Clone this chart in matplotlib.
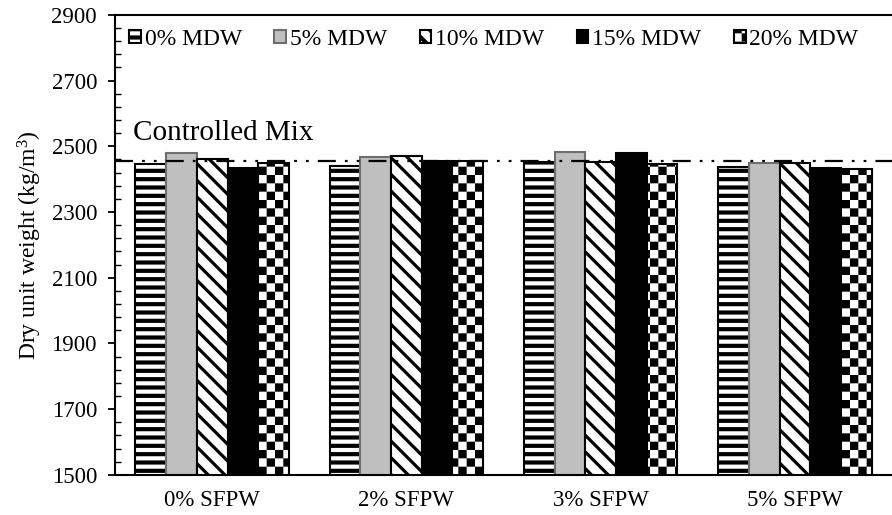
import numpy as np
import matplotlib
matplotlib.use("Agg")
import matplotlib.pyplot as plt
from matplotlib import hatch as mhatch
from matplotlib.ticker import AutoMinorLocator

plt.rcParams['font.family'] = ['Liberation Serif', 'DejaVu Serif']
plt.rcParams['mathtext.default'] = 'regular'
plt.rcParams['hatch.linewidth'] = 3.0
plt.rcParams['lines.scale_dashes'] = False

groups = ['0% SFPW', '2% SFPW', '3% SFPW', '5% SFPW']
series = ['0% MDW', '5% MDW', '10% MDW', '15% MDW', '20% MDW']
mdw0 = [2446, 2441, 2453, 2436]
mdw5 = [2481, 2468, 2484, 2448]
mdw10 = [2462, 2471, 2453, 2449]
mdw15 = [2433, 2454, 2479, 2433]
mdw20 = [2449, 2454, 2447, 2430]
control = 2456


# checkerboard hatch ('c'), matplotlib doesn't have one
class CheckerHatch(mhatch.HatchPatternBase):
    def __init__(self, hatch, density):
        n = hatch.count('c') * density
        if n % 2:
            n += 1
        self.n = n
        self.num_vertices = 5 * (n * n // 2) if n else 0

    def set_vertices_and_codes(self, vertices, codes):
        n = self.n
        step = 1.0 / n
        pad = plt.rcParams['hatch.linewidth'] / 72 / 2
        k = 0
        for i in range(n):
            for j in range(n):
                if (i + j) % 2:
                    continue
                x0, y0 = i * step + pad, j * step + pad
                x1, y1 = (i + 1) * step - pad, (j + 1) * step - pad
                vertices[k:k + 5] = [(x0, y0), (x1, y0), (x1, y1), (x0, y1), (x0, y0)]
                codes[k:k + 5] = [1, 2, 2, 2, 79]
                k += 5


mhatch._hatch_types.append(CheckerHatch)

fig = plt.figure(figsize=(8.92, 5.15), dpi=100)
ax = fig.add_axes([0.129, 0.078, 0.871, 0.893])

data = [mdw0, mdw5, mdw10, mdw15, mdw20]
styles = [
    dict(color='white', edgecolor='black', hatch='--', hlw=3.0),
    dict(color='#bfbfbf', edgecolor='#6e6e6e', hatch=None, hlw=None),
    dict(color='white', edgecolor='black', hatch='\\\\', hlw=2.3),
    dict(color='black', edgecolor='black', hatch=None, hlw=None),
    dict(color='white', edgecolor='black', hatch='cc', hlw=None),
]
x = np.arange(len(groups))
w = 0.158
for i, (vals, st) in enumerate(zip(data, styles)):
    bars = ax.bar(x + (i - 2) * w, vals, w, color=st['color'], edgecolor=st['edgecolor'],
                  hatch=st['hatch'], linewidth=1.5, label=series[i], zorder=2)
    if st['hlw'] is not None:
        for b in bars:
            if hasattr(b, 'set_hatch_linewidth'):
                b.set_hatch_linewidth(st['hlw'])

ax.axhline(control, color='black', lw=1.6, dashes=(13, 6.5, 2, 6.5, 2, 6.5), zorder=3)
ax.text(-0.41, 2519, 'Controlled Mix', fontsize=21, ha='left', va='baseline')

ax.set_xlim(-0.5, 3.5)
ax.set_ylim(1500, 2900)
ax.set_yticks(np.arange(1500, 2901, 200))
ax.yaxis.set_minor_locator(AutoMinorLocator(5))
ax.set_xticks(x)
ax.set_xticklabels(groups, fontsize=16.5)
ax.tick_params(axis='x', length=0, pad=11)
ax.tick_params(axis='y', which='major', direction='out', length=5, width=1.3, labelsize=16.5, pad=8)
ax.tick_params(axis='y', which='minor', direction='in', length=4, width=1.0)
ax.set_ylabel(r'Dry unit weight (kg/m$^{3}$)', fontsize=17, labelpad=5)

ax.spines['right'].set_visible(False)
for s in ['left', 'bottom', 'top']:
    ax.spines[s].set_linewidth(1.5)

ax.legend(loc='upper left', ncol=5, frameon=False, fontsize=17, handlelength=0.5,
          handleheight=0.5, handletextpad=0.15, columnspacing=1.38,
          bbox_to_anchor=(0.0, 1.0), borderaxespad=0.3, borderpad=0.3)

fig.savefig('out.png', dpi=100)
